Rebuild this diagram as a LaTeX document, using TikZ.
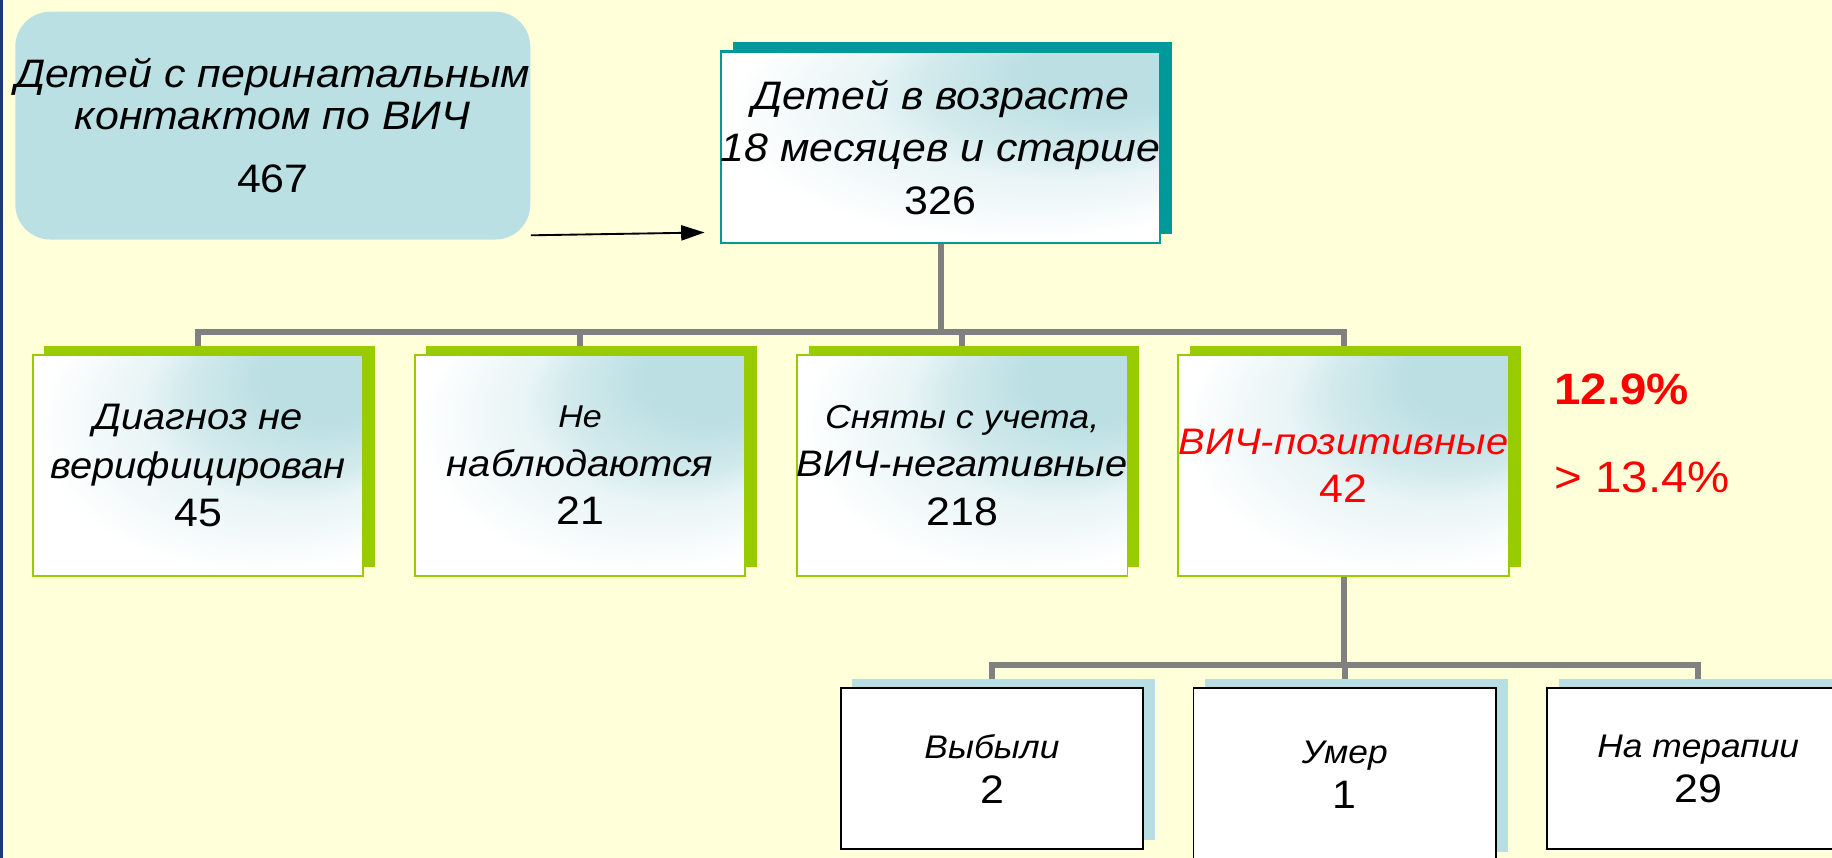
\documentclass[tikz,border=0pt]{standalone}
\usepackage{fontspec}
\setmainfont[FakeStretch=1.08]{Liberation Sans}
\usetikzlibrary{arrows.meta,shadows}
\definecolor{bgc}{HTML}{FFFFDA}
\definecolor{navyc}{HTML}{1A3A7A}
\definecolor{rfill}{HTML}{BBE0E3}
\definecolor{tealS}{HTML}{009999}
\definecolor{greenS}{HTML}{99CC00}
\definecolor{blueS}{HTML}{B7DEE2}
\definecolor{glowc}{HTML}{BBDFE3}
\colorlet{glowb}{glowc!65!white}
\colorlet{glowa}{glowc!35!white}
\definecolor{connc}{HTML}{808080}
\definecolor{redc}{HTML}{FF0000}
\pgfdeclareradialshading{glow}{\pgfpoint{25bp}{25bp}}{color(0bp)=(glowc); color(10bp)=(glowc); color(18bp)=(glowb); color(22bp)=(glowa); color(33bp)=(white); color(50bp)=(white)}
\newcommand\setfs[2]{\fontsize{#1}{#2}\selectfont}
\begin{document}
\begin{tikzpicture}[x=0.5pt,y=-0.5pt,
  rboxst/.style={fill=rfill, rounded corners=15pt, inner sep=0pt,
    minimum width=218.5pt, minimum height=97.5pt, align=center,
    font=\setfs{17}{18}},
  topst/.style={draw=tealS, line width=1pt, shade, shading=glow,
    drop shadow={shadow xshift=5pt, shadow yshift=4pt, fill=tealS, opacity=1},
    inner sep=0pt, minimum width=188pt, minimum height=82pt, align=center,
    font=\setfs{17}{22.5}},
  lvlst/.style={draw=greenS, line width=0.8pt, shade, shading=glow,
    drop shadow={shadow xshift=5pt, shadow yshift=4pt, fill=greenS, opacity=1},
    inner sep=0pt, minimum width=141.5pt, minimum height=94.5pt, align=center,
    font=\setfs{15.8}{20.75}},
  leafst/.style={draw=black, line width=0.8pt, fill=white,
    drop shadow={shadow xshift=5pt, shadow yshift=4pt, fill=blueS, opacity=1},
    inner sep=0pt, minimum width=129.5pt, minimum height=69pt, align=center,
    font=\setfs{17}{19.5}},
  conn/.style={draw=connc, line width=2.6pt, line join=miter},
  arrowst/.style={draw=black, line width=0.8pt, -{Triangle[length=10pt,width=6.5pt]}},
  pctst/.style={text=redc, anchor=west, inner sep=0pt, font=\setfs{18.8}{20}}
]
\useasboundingbox (0,0) rectangle (1568,734);
\clip (0,0) rectangle (1568,734);
\fill[bgc] (0,0) rectangle (1568,734);
\fill[navyc] (0,0) rectangle (2.5,734);

% connectors (drawn first, behind boxes)
\coordinate (topS) at (805,208);
\coordinate (posS) at (1150,493.5);
\foreach \cx in {169.5,496.5,823.5,1150}{
  \draw[conn] (topS) -- (805,284) -| (\cx,298);
}
\foreach \cx in {849,1151,1453.5}{
  \draw[conn] (posS) -- (1150,569) -| (\cx,583);
}

% boxes
\node[rboxst] (src) at (233.5,107.5)
  {\textit{Детей с перинатальным}\\\textit{контактом по ВИЧ}\\[9pt]467};
\node[topst] (top) at (805,126)
  {\textit{Детей в возрасте}\\\textit{18 месяцев и старше}\\326};

\node[lvlst] (nv) at (169.5,398.5)
  {\textit{Диагноз не}\\\textit{верифицирован}\\{\setfs{17}{20.75}45}};
\node[lvlst] (nn) at (496.5,398.5)
  {{\setfs{13.5}{20.75}\itshape Не}\\\textit{наблюдаются}\\{\setfs{17}{20.75}21}};
\node[lvlst] (neg) at (823.5,398.5)
  {{\setfs{14.2}{20.75}\itshape Сняты с учета,}\\\textit{ВИЧ-негативные}\\{\setfs{17}{20.75}218}};
\node[lvlst, text=redc] (pos) at (1150,398.5)
  {\textit{ВИЧ-позитивные}\\{\setfs{17}{20.75}42}};

\node[leafst] (out) at (849,658)
  {{\setfs{14}{19.5}\itshape Выбыли}\\2};
\node[leafst, minimum height=74pt] (died) at (1151,663)
  {{\setfs{14}{19.5}\itshape Умер}\\1};
\node[leafst] (ther) at (1453.5,658)
  {{\setfs{14}{19.5}\itshape На терапии}\\29};

\node[pctst, font=\setfs{18.8}{20}\bfseries] (p1) at (1330,333) {12.9\%};
\node[pctst] (p2) at (1330,409) {> 13.4\%};

% arrow
\coordinate (arrE) at (603,199);
\draw[arrowst] ([yshift=2pt]src.south east) -- (arrE);
\end{tikzpicture}
\end{document}
